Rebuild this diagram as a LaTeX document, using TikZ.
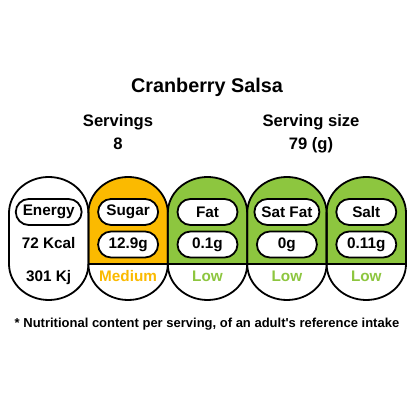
\documentclass[tikz,border=0pt]{standalone}
\usepackage{fontspec}
\setmainfont{Liberation Sans}
\definecolor{amber}{HTML}{FBBA00}
\definecolor{lgreen}{HTML}{8DC63F}
\begin{document}
\begin{tikzpicture}[x=1pt,y=1pt,
  outline/.style={draw=black,line width=1.8pt},
  tagbox/.style={draw=black,line width=1.8pt,fill=white,minimum width=60pt,minimum height=26pt,
    rounded corners=13pt,inner xsep=7pt,inner ysep=0pt,font=\fontsize{15.3}{18}\selectfont\bfseries},
  plain/.style={inner sep=0pt,anchor=base,font=\fontsize{15.3}{18}\selectfont\bfseries},
  head/.style={inner sep=0pt,anchor=base,font=\fontsize{16.6}{20}\selectfont\bfseries}]
\useasboundingbox (0,0) rectangle (414,414);
\fill[white] (0,0) rectangle (414,414);
% titles
\node[inner sep=0pt,anchor=base,font=\fontsize{19.8}{24}\selectfont\bfseries] (title) at (207,321) {Cranberry Salsa};
\node[head] (serv) at (118,287) {Servings};
\node[head] (servn) at (118,264) {8};
\node[head] (size) at (311,287) {Serving size};
\node[head] (sizen) at (311,264) {79 (g)};
% pill shape: x from L to L+79.4, y from 114 to 237
\def\pillpath#1{(#1,150) -- (#1,201) arc[start angle=180,end angle=0,x radius=39.7,y radius=36] -- ++(0,-51) arc[start angle=0,end angle=-180,x radius=39.7,y radius=36] -- cycle}
% colored tops
\foreach \L/\c in {88.4/amber,167.8/lgreen,247.2/lgreen,326.6/lgreen}{
  \begin{scope}
    \clip \pillpath{\L};
    \fill[\c] (\L,150) rectangle ++(79.4,90);
  \end{scope}
}
% outlines
\foreach \L in {9,88.4,167.8,247.2,326.6}{
  \draw[outline] \pillpath{\L};
}
\foreach \L in {88.4,167.8,247.2,326.6}{
  \draw[outline] (\L,150) -- ++(79.4,0);
}
% energy
\node[tagbox] (l1) at (48.7,202) {Energy};
\node[plain] (v1) at (48.7,165) {72 Kcal};
\node[plain] (k1) at (48.7,132) {301 Kj};
% others
\foreach \i/\x/\lab/\val/\lev/\c in {2/128.1/Sugar/12.9g/Medium/amber,3/207.5/Fat/0.1g/Low/lgreen,4/286.9/Sat Fat/0g/Low/lgreen,5/366.3/Salt/0.11g/Low/lgreen}{
  \node[tagbox] (l\i) at (\x,202) {\lab};
  \node[tagbox] (v\i) at (\x,169.5) {\val};
  \node[plain,text=\c] (k\i) at (\x,132) {\lev};
}
\node[inner sep=0pt,anchor=base,font=\fontsize{13}{15}\selectfont\bfseries] (note) at (207,86) {* Nutritional content per serving, of an adult\textquotesingle s reference intake};
\end{tikzpicture}
\end{document}
